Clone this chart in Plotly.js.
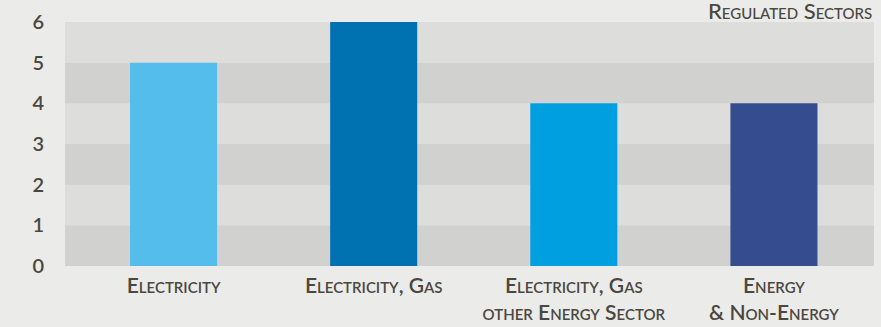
<!DOCTYPE html>
<html>
<head>
<meta charset="utf-8">
<script src="https://cdn.plot.ly/plotly-3.0.1.min.js"></script>
<style>html,body{margin:0;padding:0;background:#ebebe9;}#chart{width:881px;height:327px;}</style>
</head>
<body>
<div id="chart"></div>
<script>
const categories = ["Electricity", "Electricity, Gas", "Electricity, Gas<br>other Energy Sector", "Energy<br>& Non-Energy"];
const values = [5, 6, 4, 4];
const barColors = ["#55bdec", "#0071b1", "#00a0e0", "#354d8f"];
const yTicks = [0, 1, 2, 3, 4, 5, 6];
const titleText = "Regulated Sectors";

const bandShapes = [];
for (let i = 0; i < 6; i++) {
  bandShapes.push({
    type: "rect", xref: "paper", yref: "y", x0: 0, x1: 1, y0: i, y1: i + 1,
    fillcolor: i % 2 === 0 ? "#d1d1cf" : "#dddddc", line: {width: 0}, layer: "below"
  });
}

const font = {family: "Lato, 'Open Sans', sans-serif", color: "#4a473f"};

Plotly.newPlot("chart", [{
  type: "bar",
  x: categories,
  y: values,
  marker: {color: barColors, line: {width: 0}},
  width: 0.435,
  hoverinfo: "none"
}], {
  width: 881, height: 327,
  margin: {l: 65, r: 7, t: 22, b: 61},
  paper_bgcolor: "#ebebe9",
  plot_bgcolor: "#dddddc",
  showlegend: false,
  shapes: bandShapes,
  xaxis: {
    type: "category",
    range: [-0.5425, 3.5],
    showgrid: false, zeroline: false, showline: false,
    ticks: "", ticklabelstandoff: 5,
    tickfont: Object.assign({size: 21, weight: 600, variant: "small-caps"}, font)
  },
  yaxis: {
    range: [0, 6],
    tickvals: yTicks,
    showgrid: false, zeroline: false, showline: false,
    ticks: "", ticklabelstandoff: 20,
    tickfont: Object.assign({size: 20, weight: 600}, font)
  },
  annotations: [{
    text: titleText, xref: "paper", yref: "paper", x: 1, y: 1,
    xanchor: "right", yanchor: "bottom", yshift: -4, xshift: 0, showarrow: false,
    font: Object.assign({size: 22, weight: 500, variant: "small-caps"}, font)
  }]
}, {staticPlot: true});
</script>
</body>
</html>
